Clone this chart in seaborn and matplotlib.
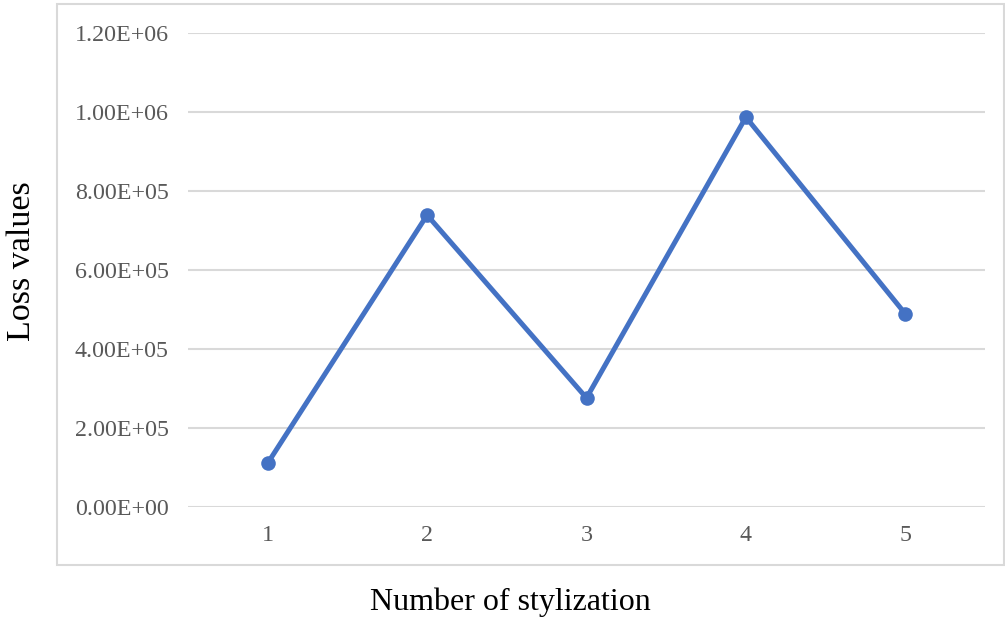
import matplotlib
matplotlib.use("Agg")
import matplotlib.pyplot as plt
import seaborn as sns
import pandas as pd
from matplotlib.patches import Rectangle
from matplotlib.ticker import FuncFormatter

stylization = [1, 2, 3, 4, 5]
loss_values = [1.11e5, 7.39e5, 2.76e5, 9.87e5, 4.89e5]
y_ticks = [0, 2e5, 4e5, 6e5, 8e5, 1e6, 1.2e6]

df = pd.DataFrame({"x": stylization, "loss": loss_values})

sns.set_style("white")
plt.rcParams['font.family'] = ['Liberation Serif', 'DejaVu Serif']

fig = plt.figure(figsize=(10.05, 6.22), dpi=100)
ax = fig.add_axes([188/1005, (622-507)/622, (985-188)/1005, (507-33)/622])

# outer chart border
fig.patches.append(Rectangle((57/1005, (622-565)/622), (1004-57)/1005, (565-4)/622,
                             transform=fig.transFigure, fill=False,
                             edgecolor="#D9D9D9", linewidth=1.5, zorder=0))

sns.lineplot(data=df, x="x", y="loss", ax=ax, color="#4472C4", linewidth=3.6,
             marker="o", markersize=10.5, markeredgewidth=0, zorder=3)

ax.set_xlim(0.5, 5.5)
ax.set_ylim(0, 1.2e6)
ax.set_yticks(y_ticks)
ax.set_xticks(stylization)
ax.yaxis.set_major_formatter(FuncFormatter(lambda v, p: ("%.2E" % v)))
ax.grid(axis="y", color="#D9D9D9", linewidth=1.5)
ax.set_axisbelow(True)
for s in ax.spines.values():
    s.set_visible(False)
ax.tick_params(axis="both", length=0, labelsize=17.3, colors="#595959")
ax.tick_params(axis="y", pad=14)
ax.tick_params(axis="x", pad=13)
ax.set_xlabel("")
ax.set_ylabel("")

fig.text(510/1005, 1 - 602/622, "Number of stylization", ha="center", va="center",
         fontsize=23, color="black")
fig.text(22/1005, 1 - 261/622, "Loss values", ha="center", va="center",
         rotation=90, fontsize=24.5, color="black")

fig.savefig("out.png", dpi=100)
